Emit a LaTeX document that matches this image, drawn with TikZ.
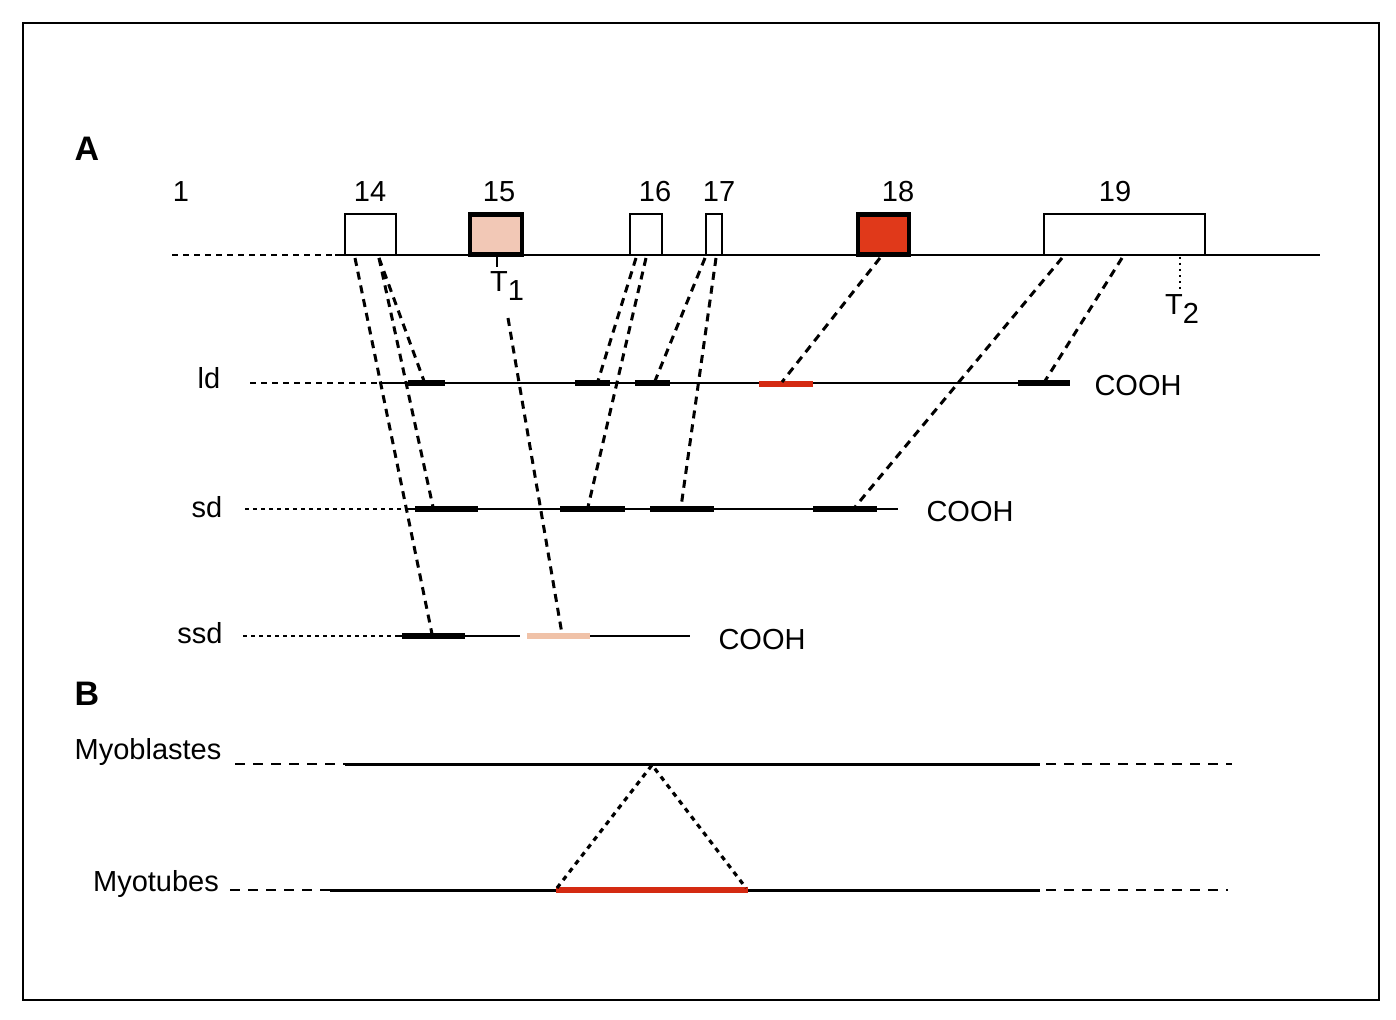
\documentclass[tikz,border=0pt]{standalone}
\usepackage{fontspec}
\setmainfont{Liberation Sans}
\begin{document}
\begin{tikzpicture}[x=0.5pt,y=-0.5pt,
  lbl/.style={font=\fontsize{14.5}{16}\selectfont, inner sep=0pt},
  big/.style={font=\fontsize{17}{19}\selectfont\bfseries, inner sep=0pt},
  exon/.style={draw=black, line width=1.1pt, fill=white, inner sep=0pt, outer sep=0pt, minimum height=20.5pt},
  exonthick/.style={exon, line width=2.4pt},
  gline/.style={line width=1.3pt},
  seg/.style={line width=3.3pt},
  redseg/.style={line width=3.3pt, draw=segred},
  lead/.style={line width=1.3pt, dash pattern=on 3pt off 2.5pt},
  leaddot/.style={line width=1.3pt, dash pattern=on 1.8pt off 2.2pt},
  conn/.style={line width=1.5pt, dash pattern=on 4pt off 3pt},
  bdash/.style={line width=1.4pt, dash pattern=on 5pt off 4pt},
  tri/.style={line width=1.6pt, dash pattern=on 2.5pt off 2.5pt}
]
\definecolor{peach}{HTML}{F2C8B6}
\definecolor{exred}{HTML}{E0391A}
\definecolor{segred}{HTML}{D42A12}
\definecolor{palepeach}{HTML}{F0C2A8}
\useasboundingbox (0,0) rectangle (1396,1020);
% frame
\draw[line width=1.4pt] (23,23) rectangle (1379,1000);

% panel letters
\node[big] (lA) at (87,149) {A};
\node[big] (lB) at (87,694) {B};

% ---------------- gene ----------------
\draw[lead] (172,255) -- (335,255);
\draw[gline] (335,255) -- (1320,255);
\node[exon, minimum width=25.5pt] (e14) at (370.5,234.5) {};
\node[exonthick, fill=peach, minimum width=26pt, minimum height=20pt] (e15) at (496,234.5) {};
\node[exon, minimum width=16pt] (e16) at (646,234.5) {};
\node[exon, minimum width=8pt] (e17) at (714,234.5) {};
\node[exonthick, fill=exred, minimum width=25.5pt, minimum height=20pt] (e18) at (883.5,234.5) {};
\node[exon, minimum width=80.5pt] (e19) at (1124.5,234.5) {};

\node[lbl] (n1) at (181,192) {1};
\node[lbl] (n14) at (370,192) {14};
\node[lbl] (n15) at (499,192) {15};
\node[lbl] (n16) at (655,192) {16};
\node[lbl] (n17) at (719,192) {17};
\node[lbl] (n18) at (898,192) {18};
\node[lbl] (n19) at (1115,192) {19};

% T1 and T2
\coordinate (t1a) at (497,255);
\coordinate (t1b) at (497,267);
\draw[line width=1.4pt] (t1a) -- (t1b);
\node[lbl] (T1) at (507,286) {T\raisebox{-0.55ex}{1}};
\coordinate (t2a) at (1180,257);
\coordinate (t2b) at (1180,292);
\draw[line width=1pt, dash pattern=on 1.2pt off 1.8pt] (t2a) -- (t2b);
\node[lbl] (T2) at (1182,309) {T\raisebox{-0.55ex}{2}};

% ---------------- ld ----------------
\node[lbl] (ld) at (209,378) {ld};
\draw[lead] (250,383) -- (380,383);
\draw[gline] (380,383) -- (1070,383);
\draw[seg] (408,383) -- (445,383);
\draw[seg] (575,383) -- (610,383);
\draw[seg] (635,383) -- (670,383);
\draw[redseg] (759,384) -- (813,384);
\draw[seg] (1018,383) -- (1070,383);
\node[lbl] (c1) at (1138,386) {COOH};

% ---------------- sd ----------------
\node[lbl] (sd) at (207,507) {sd};
\draw[leaddot] (245,509) -- (405,509);
\draw[gline] (405,509) -- (898,509);
\draw[seg] (415,509) -- (478,509);
\draw[seg] (560,509) -- (625,509);
\draw[seg] (650,509) -- (714,509);
\draw[seg] (813,509) -- (877,509);
\node[lbl] (c2) at (970,512) {COOH};

% ---------------- ssd ----------------
\node[lbl] (ssd) at (200,633) {ssd};
\draw[leaddot] (243,636) -- (395,636);
\draw[gline] (395,636) -- (520,636);
\draw[gline] (590,636) -- (690,636);
\draw[seg] (402,636) -- (465,636);
\draw[seg, draw=palepeach] (527,636) -- (590,636);
\node[lbl] (c3) at (762,640) {COOH};

% ---------------- connectors ----------------
\coordinate (g14a) at (355,258);
\coordinate (g14b) at (379,258);
\coordinate (g15) at (508,318);
\coordinate (g16a) at (636,258);
\coordinate (g16b) at (646,258);
\coordinate (g17a) at (705,258);
\coordinate (g17b) at (716,258);
\coordinate (g18) at (880,258);
\coordinate (g19a) at (1062,258);
\coordinate (g19b) at (1122,258);

\coordinate (ld14) at (424,381);
\coordinate (ld16) at (598,381);
\coordinate (ld17) at (655,381);
\coordinate (ld18) at (782,382);
\coordinate (ld19) at (1045,381);

\coordinate (sd14) at (433,507);
\coordinate (sd16) at (588,507);
\coordinate (sd17) at (681,507);
\coordinate (sd19) at (855,507);

\coordinate (ssd14) at (432,634);
\coordinate (ssd15) at (562,634);

\draw[conn] (g14a) -- (ssd14);
\draw[conn] (g14b) -- (sd14);
\draw[conn] (g14b) -- (ld14);
\draw[conn] (g15) -- (ssd15);
\draw[conn] (g16a) -- (ld16);
\draw[conn] (g16b) -- (sd16);
\draw[conn] (g17a) -- (ld17);
\draw[conn] (g17b) -- (sd17);
\draw[conn] (g18) -- (ld18);
\draw[conn] (g19a) -- (sd19);
\draw[conn] (g19b) -- (ld19);

% ---------------- B ----------------
\node[lbl] (mb) at (148,752) {Myoblastes};
\draw[bdash] (235,764) -- (345,764);
\draw[gline, line width=1.5pt] (345,764) -- (1040,764);
\draw[bdash] (1046,764) -- (1232,764);

\node[lbl] (mt) at (156,884) {Myotubes};
\draw[bdash] (230,890) -- (330,890);
\draw[gline, line width=1.5pt] (330,890) -- (1040,890);
\draw[bdash] (1046,890) -- (1228,890);
\draw[line width=3.2pt, draw=segred] (556,890) -- (748,890);

\coordinate (apex) at (652,765);
\coordinate (tl) at (557,888);
\coordinate (tr) at (746,888);
\draw[tri] (tl) -- (apex) -- (tr);
\end{tikzpicture}
\end{document}
